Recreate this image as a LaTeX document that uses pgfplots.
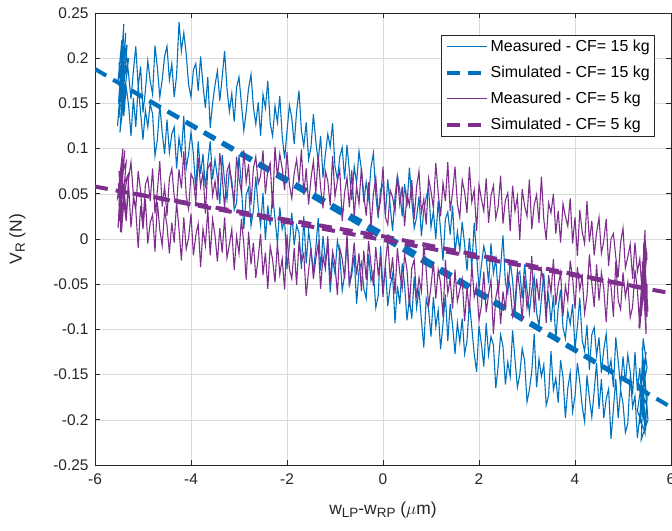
\documentclass[border=0pt]{standalone}
\usepackage{pgfplots}
\usepackage{pgfplotstable}
\pgfplotsset{compat=1.18}
\usepackage{fontspec}
\setmainfont{Liberation Sans}
\definecolor{mblue}{rgb}{0,0.447,0.741}
\definecolor{mpurple}{rgb}{0.494,0.184,0.556}
\definecolor{axgray}{rgb}{0.15,0.15,0.15}
\newcommand{\sbs}[1]{\raisebox{-0.35ex}{\fontsize{13.5}{14}\selectfont #1}}
\begin{document}
\pgfplotstableread{
x y
-5.50 0.156
-5.45 0.195
-5.40 0.168
-5.35 0.207
-5.30 0.182
-5.25 0.155
-5.20 0.186
-5.15 0.213
-5.10 0.168
-5.05 0.191
-5.00 0.140
-4.95 0.164
-4.90 0.197
-4.85 0.175
-4.80 0.160
-4.75 0.214
-4.70 0.189
-4.65 0.157
-4.60 0.176
-4.55 0.202
-4.50 0.213
-4.45 0.176
-4.40 0.194
-4.35 0.157
-4.30 0.181
-4.25 0.240
-4.20 0.208
-4.15 0.228
-4.10 0.205
-4.05 0.171
-4.00 0.157
-3.95 0.187
-3.90 0.194
-3.85 0.164
-3.80 0.202
-3.75 0.170
-3.70 0.145
-3.65 0.179
-3.60 0.123
-3.55 0.150
-3.50 0.170
-3.45 0.186
-3.40 0.153
-3.35 0.179
-3.30 0.208
-3.25 0.166
-3.20 0.141
-3.15 0.161
-3.10 0.130
-3.05 0.168
-3.00 0.179
-2.95 0.150
-2.90 0.120
-2.85 0.141
-2.80 0.167
-2.75 0.182
-2.70 0.146
-2.65 0.127
-2.60 0.151
-2.55 0.114
-2.50 0.160
-2.45 0.145
-2.40 0.175
-2.35 0.128
-2.30 0.114
-2.25 0.147
-2.20 0.129
-2.15 0.158
-2.10 0.114
-2.05 0.089
-2.00 0.119
-1.95 0.148
-1.90 0.134
-1.85 0.105
-1.80 0.141
-1.75 0.164
-1.70 0.120
-1.65 0.103
-1.60 0.129
-1.55 0.088
-1.50 0.102
-1.45 0.138
-1.40 0.108
-1.35 0.086
-1.30 0.114
-1.25 0.068
-1.20 0.094
-1.15 0.116
-1.10 0.102
-1.05 0.128
-1.00 0.080
-0.95 0.066
-0.90 0.091
-0.85 0.101
-0.80 0.066
-0.75 0.104
-0.70 0.075
-0.65 0.043
-0.60 0.080
-0.55 0.062
-0.50 0.097
-0.45 0.077
-0.40 0.041
-0.35 0.063
-0.30 0.045
-0.25 0.079
-0.20 0.095
-0.15 0.049
-0.10 0.023
-0.05 0.055
0.00 0.061
0.05 0.027
0.10 0.066
0.15 0.036
0.20 0.009
0.25 0.047
0.30 0.070
0.35 0.054
0.40 0.025
0.45 0.061
0.50 0.036
0.55 0.079
0.60 0.043
0.65 0.012
0.70 0.024
0.75 0.047
0.80 0.003
0.85 0.032
0.90 0.046
0.95 0.057
1.00 0.013
1.05 0.031
1.10 0.000
1.15 0.042
1.20 0.009
1.25 -0.024
1.30 0.022
1.35 0.030
1.40 0.005
1.45 0.037
1.50 -0.016
1.55 0.008
1.60 -0.013
1.65 0.019
1.70 -0.006
1.75 -0.035
1.80 0.001
1.85 -0.032
1.90 0.018
1.95 -0.017
2.00 -0.055
2.05 -0.029
2.10 -0.008
2.15 -0.020
2.20 -0.049
2.25 -0.005
2.30 -0.038
2.35 -0.022
2.40 -0.061
2.45 -0.031
2.50 0.004
2.55 -0.048
2.60 -0.060
2.65 -0.024
2.70 -0.046
2.75 -0.082
2.80 -0.040
2.85 -0.036
2.90 -0.066
2.95 -0.028
3.00 -0.056
3.05 -0.082
3.10 -0.056
3.15 -0.042
3.20 -0.082
3.25 -0.096
3.30 -0.066
3.35 -0.038
3.40 -0.078
3.45 -0.062
3.50 -0.092
3.55 -0.062
3.60 -0.112
3.65 -0.076
3.70 -0.056
3.75 -0.098
3.80 -0.110
3.85 -0.080
3.90 -0.094
3.95 -0.072
4.00 -0.122
4.05 -0.097
4.10 -0.065
4.15 -0.112
4.20 -0.124
4.25 -0.095
4.30 -0.145
4.35 -0.106
4.40 -0.098
4.45 -0.129
4.50 -0.109
4.55 -0.148
4.60 -0.122
4.65 -0.105
4.70 -0.147
4.75 -0.134
4.80 -0.164
4.85 -0.109
4.90 -0.135
4.95 -0.164
5.00 -0.130
5.05 -0.159
5.10 -0.128
5.15 -0.147
5.20 -0.172
5.25 -0.125
5.30 -0.168
5.35 -0.143
5.40 -0.184
5.45 -0.155
5.50 -0.142
5.42 -0.110
5.35 -0.205
5.48 -0.125
5.30 -0.190
5.46 -0.215
5.40 -0.120
5.52 -0.200
5.38 -0.222
5.44 -0.140
5.50 -0.185
5.33 -0.160
5.47 -0.212
5.50 -0.170
5.50 -0.178
5.45 -0.208
5.40 -0.162
5.35 -0.196
5.30 -0.220
5.25 -0.174
5.20 -0.186
5.15 -0.152
5.10 -0.204
5.05 -0.214
5.00 -0.182
4.95 -0.167
4.90 -0.198
4.85 -0.155
4.80 -0.188
4.75 -0.221
4.70 -0.166
4.65 -0.177
4.60 -0.198
4.55 -0.155
4.50 -0.188
4.45 -0.137
4.40 -0.168
4.35 -0.197
4.30 -0.176
4.25 -0.151
4.20 -0.202
4.15 -0.185
4.10 -0.158
4.05 -0.137
4.00 -0.174
3.95 -0.191
3.90 -0.148
3.85 -0.165
3.80 -0.198
3.75 -0.153
3.70 -0.134
3.65 -0.181
3.60 -0.154
3.55 -0.167
3.50 -0.124
3.45 -0.173
3.40 -0.184
3.35 -0.139
3.30 -0.152
3.25 -0.133
3.20 -0.164
3.15 -0.105
3.10 -0.146
3.05 -0.167
3.00 -0.180
2.95 -0.135
2.90 -0.121
2.85 -0.150
2.80 -0.164
2.75 -0.133
2.70 -0.101
2.65 -0.152
2.60 -0.136
2.55 -0.161
2.50 -0.119
2.45 -0.106
2.40 -0.140
2.35 -0.165
2.30 -0.117
2.25 -0.108
2.20 -0.128
2.15 -0.093
2.10 -0.141
2.05 -0.116
2.00 -0.096
1.95 -0.147
1.90 -0.127
1.85 -0.098
1.80 -0.070
1.75 -0.113
1.70 -0.127
1.65 -0.088
1.60 -0.114
1.55 -0.093
1.50 -0.127
1.45 -0.096
1.40 -0.072
1.35 -0.113
1.30 -0.061
1.25 -0.094
1.20 -0.122
1.15 -0.079
1.10 -0.097
1.05 -0.064
1.00 -0.108
0.95 -0.078
0.90 -0.066
0.85 -0.120
0.80 -0.090
0.75 -0.056
0.70 -0.076
0.65 -0.042
0.60 -0.088
0.55 -0.066
0.50 -0.090
0.45 -0.051
0.40 -0.027
0.35 -0.072
0.30 -0.052
0.25 -0.093
0.20 -0.039
0.15 -0.052
0.10 -0.074
0.05 -0.031
0.00 -0.057
-0.05 -0.008
-0.10 -0.063
-0.15 -0.076
-0.20 -0.037
-0.25 -0.046
-0.30 -0.017
-0.35 -0.066
-0.40 -0.055
-0.45 -0.026
-0.50 -0.035
-0.55 -0.072
-0.60 -0.018
-0.65 -0.039
-0.70 -0.051
-0.75 -0.002
-0.80 -0.040
-0.85 -0.057
-0.90 -0.017
-0.95 -0.002
-1.00 -0.038
-1.05 -0.023
-1.10 -0.059
-1.15 -0.008
-1.20 -0.024
-1.25 0.003
-1.30 -0.035
-1.35 0.023
-1.40 -0.010
-1.45 -0.037
-1.50 -0.011
-1.55 0.009
-1.60 -0.027
-1.65 0.025
-1.70 -0.033
-1.75 0.007
-1.80 0.015
-1.85 -0.007
-1.90 0.029
-1.95 -0.007
-2.00 -0.033
-2.05 0.021
-2.10 0.011
-2.15 0.035
-2.20 -0.005
-2.25 0.023
-2.30 0.049
-2.35 0.015
-2.40 0.037
-2.45 -0.001
-2.50 0.051
-2.55 0.015
-2.60 0.035
-2.65 0.069
-2.70 0.031
-2.75 0.015
-2.80 0.057
-2.85 0.049
-2.90 0.011
-2.95 0.059
-3.00 0.093
-3.05 0.040
-3.10 0.032
-3.15 0.065
-3.20 0.077
-3.25 0.044
-3.30 0.064
-3.35 0.093
-3.40 0.039
-3.45 0.068
-3.50 0.088
-3.55 0.066
-3.60 0.108
-3.65 0.084
-3.70 0.056
-3.75 0.094
-3.80 0.072
-3.85 0.108
-3.90 0.054
-3.95 0.094
-4.00 0.118
-4.05 0.094
-4.10 0.078
-4.15 0.136
-4.20 0.094
-4.25 0.112
-4.30 0.078
-4.35 0.124
-4.40 0.116
-4.45 0.096
-4.50 0.132
-4.55 0.094
-4.60 0.118
-4.65 0.148
-4.70 0.110
-4.75 0.092
-4.80 0.138
-4.85 0.150
-4.90 0.124
-4.95 0.142
-5.00 0.110
-5.05 0.140
-5.10 0.170
-5.15 0.124
-5.20 0.156
-5.25 0.114
-5.30 0.148
-5.35 0.168
-5.40 0.136
-5.45 0.178
-5.50 0.134
-5.42 0.205
-5.53 0.125
-5.36 0.228
-5.48 0.118
-5.30 0.200
-5.51 0.150
-5.40 0.238
-5.46 0.135
-5.33 0.215
-5.52 0.175
-5.44 0.220
-5.38 0.145
-5.50 0.195
-5.45 0.160
}\bluemeas
\pgfplotstableread{
x y
-5.50 0.075
-5.45 0.043
-5.40 0.060
-5.35 0.026
-5.30 0.067
-5.25 0.085
-5.20 0.048
-5.15 0.034
-5.10 0.075
-5.05 0.053
-5.00 0.016
-4.95 0.060
-4.90 0.068
-4.85 0.042
-4.80 0.078
-4.75 0.028
-4.70 0.054
-4.65 0.086
-4.60 0.036
-4.55 0.058
-4.50 0.026
-4.45 0.067
-4.40 0.078
-4.35 0.047
-4.30 0.038
-4.25 0.077
-4.20 0.056
-4.15 0.097
-4.10 0.048
-4.05 0.033
-4.00 0.072
-3.95 0.066
-3.90 0.040
-3.85 0.090
-3.80 0.058
-3.75 0.074
-3.70 0.028
-3.65 0.078
-3.60 0.084
-3.55 0.048
-3.50 0.064
-3.45 0.043
-3.40 0.095
-3.35 0.070
-3.30 0.034
-3.25 0.075
-3.20 0.083
-3.15 0.058
-3.10 0.042
-3.05 0.091
-3.00 0.067
-2.95 0.052
-2.90 0.098
-2.85 0.063
-2.80 0.083
-2.75 0.038
-2.70 0.078
-2.65 0.091
-2.60 0.061
-2.55 0.070
-2.50 0.098
-2.45 0.050
-2.40 0.076
-2.35 0.084
-2.30 0.034
-2.25 0.102
-2.20 0.068
-2.15 0.094
-2.10 0.078
-2.05 0.054
-2.00 0.096
-1.95 0.060
-1.90 0.045
-1.85 0.073
-1.80 0.088
-1.75 0.062
-1.70 0.099
-1.65 0.049
-1.60 0.078
-1.55 0.038
-1.50 0.067
-1.45 0.086
-1.40 0.051
-1.35 0.092
-1.30 0.057
-1.25 0.034
-1.20 0.075
-1.15 0.064
-1.10 0.037
-1.05 0.092
-1.00 0.047
-0.95 0.064
-0.90 0.077
-0.85 0.020
-0.80 0.051
-0.75 0.068
-0.70 0.035
-0.65 0.076
-0.60 0.025
-0.55 0.058
-0.50 0.039
-0.45 0.079
-0.40 0.048
-0.35 0.026
-0.30 0.063
-0.25 0.013
-0.20 0.050
-0.15 0.068
-0.10 0.029
-0.05 0.043
0.00 0.080
0.05 0.024
0.10 0.016
0.15 0.054
0.20 0.046
0.25 0.030
0.30 0.070
0.35 0.038
0.40 0.058
0.45 0.014
0.50 0.050
0.55 0.037
0.60 0.065
0.65 0.022
0.70 0.058
0.75 0.075
0.80 0.029
0.85 0.044
0.90 0.016
0.95 0.067
1.00 0.053
1.05 0.034
1.10 0.084
1.15 0.051
1.20 0.025
1.25 0.062
1.30 0.042
1.35 0.085
1.40 0.031
1.45 0.052
1.50 0.080
1.55 0.039
1.60 0.024
1.65 0.065
1.70 0.052
1.75 0.029
1.80 0.080
1.85 0.041
1.90 0.054
1.95 0.009
2.00 0.060
2.05 0.044
2.10 0.031
2.15 0.067
2.20 0.018
2.25 0.048
2.30 0.059
2.35 0.023
2.40 0.036
2.45 0.070
2.50 0.017
2.55 0.043
2.60 0.051
2.65 0.009
2.70 0.059
2.75 0.031
2.80 0.047
2.85 -0.001
2.90 0.055
2.95 0.037
3.00 0.025
3.05 0.066
3.10 0.011
3.15 0.038
3.20 0.049
3.25 0.018
3.30 0.069
3.35 0.022
3.40 -0.001
3.45 0.040
3.50 0.029
3.55 0.050
3.60 0.006
3.65 0.031
3.70 -0.004
3.75 0.039
3.80 0.025
3.85 0.014
3.90 0.045
3.95 -0.005
4.00 0.024
4.05 -0.019
4.10 0.032
4.15 0.008
4.20 -0.005
4.25 0.042
4.30 -0.003
4.35 0.020
4.40 -0.018
4.45 0.007
4.50 0.024
4.55 -0.016
4.60 -0.002
4.65 0.022
4.70 -0.030
4.75 0.000
4.80 0.006
4.85 -0.020
4.90 -0.042
4.95 -0.004
5.00 0.012
5.05 -0.032
5.10 -0.020
5.15 -0.006
5.20 -0.044
5.25 -0.004
5.30 -0.036
5.35 -0.022
5.40 -0.060
5.45 -0.030
5.50 -0.022
5.45 0.005
5.38 -0.085
5.50 -0.015
5.33 -0.098
5.46 0.010
5.48 -0.105
5.40 -0.025
5.52 -0.080
5.43 -0.005
5.47 -0.090
5.50 -0.050
5.50 -0.086
5.45 -0.046
5.40 -0.063
5.35 -0.099
5.30 -0.056
5.25 -0.034
5.20 -0.075
5.15 -0.087
5.10 -0.048
5.05 -0.064
5.00 -0.037
4.95 -0.078
4.90 -0.068
4.85 -0.025
4.80 -0.086
4.75 -0.052
4.70 -0.045
4.65 -0.092
4.60 -0.055
4.55 -0.037
4.50 -0.068
4.45 -0.028
4.40 -0.075
4.35 -0.049
4.30 -0.017
4.25 -0.063
4.20 -0.082
4.15 -0.042
4.10 -0.056
4.05 -0.031
4.00 -0.077
3.95 -0.043
3.90 -0.024
3.85 -0.068
3.80 -0.052
3.75 -0.085
3.70 -0.037
3.65 -0.051
3.60 -0.073
3.55 -0.022
3.50 -0.060
3.45 -0.040
3.40 -0.093
3.35 -0.049
3.30 -0.034
3.25 -0.068
3.20 -0.044
3.15 -0.081
3.10 -0.019
3.05 -0.060
3.00 -0.076
2.95 -0.041
2.90 -0.090
2.85 -0.056
2.80 -0.035
2.75 -0.070
2.70 -0.085
2.65 -0.054
2.60 -0.040
2.55 -0.079
2.50 -0.058
2.45 -0.094
2.40 -0.050
2.35 -0.065
2.30 -0.105
2.25 -0.045
2.20 -0.061
2.15 -0.081
2.10 -0.036
2.05 -0.074
2.00 -0.090
1.95 -0.051
1.90 -0.064
1.85 -0.028
1.80 -0.081
1.75 -0.054
1.70 -0.091
1.65 -0.044
1.60 -0.056
1.55 -0.069
1.50 -0.034
1.45 -0.077
1.40 -0.044
1.35 -0.060
1.30 -0.023
1.25 -0.086
1.20 -0.049
1.15 -0.034
1.10 -0.066
1.05 -0.025
1.00 -0.052
0.95 -0.075
0.90 -0.034
0.85 -0.005
0.80 -0.058
0.75 -0.043
0.70 -0.066
0.65 -0.023
0.60 -0.032
0.55 -0.075
0.50 -0.034
0.45 -0.017
0.40 -0.055
0.35 -0.038
0.30 -0.010
0.25 -0.061
0.20 -0.020
0.15 -0.044
0.10 -0.001
0.05 -0.027
0.00 -0.064
-0.05 -0.022
-0.10 -0.039
-0.15 -0.009
-0.20 -0.052
-0.25 -0.028
-0.30 -0.002
-0.35 -0.045
-0.40 -0.013
-0.45 -0.058
-0.50 -0.016
-0.55 -0.040
-0.60 -0.004
-0.65 -0.032
-0.70 -0.052
-0.75 0.006
-0.80 -0.044
-0.85 -0.022
-0.90 -0.010
-0.95 -0.062
-1.00 -0.028
-1.05 -0.014
-1.10 -0.048
-1.15 0.003
-1.20 -0.033
-1.25 -0.019
-1.30 -0.055
-1.35 -0.005
-1.40 -0.022
-1.45 -0.044
-1.50 -0.010
-1.55 -0.035
-1.60 -0.063
-1.65 -0.016
-1.70 -0.026
-1.75 -0.003
-1.80 -0.051
-1.85 -0.010
-1.90 -0.044
-1.95 -0.033
-2.00 0.005
-2.05 -0.056
-2.10 -0.022
-2.15 -0.039
-2.20 -0.004
-2.25 -0.048
-2.30 -0.023
-2.35 -0.008
-2.40 -0.055
-2.45 -0.015
-2.50 -0.040
-2.55 0.006
-2.60 -0.021
-2.65 -0.043
-2.70 -0.004
-2.75 -0.028
-2.80 0.008
-2.85 -0.045
-2.90 -0.005
-2.95 0.022
-3.00 -0.016
-3.05 0.003
-3.10 -0.034
-3.15 0.011
-3.20 -0.006
-3.25 -0.021
-3.30 0.024
-3.35 -0.015
-3.40 0.012
-3.45 -0.025
-3.50 0.004
-3.55 0.022
-3.60 -0.018
-3.65 0.033
-3.70 -0.007
-3.75 0.011
-3.80 -0.031
-3.85 0.017
-3.90 0.004
-3.95 -0.018
-4.00 0.028
-4.05 0.001
-4.10 -0.011
-4.15 0.024
-4.20 -0.024
-4.25 0.011
-4.30 0.041
-4.35 -0.004
-4.40 0.018
-4.45 -0.016
-4.50 0.015
-4.55 0.032
-4.60 -0.007
-4.65 0.010
-4.70 0.041
-4.75 -0.014
-4.80 0.027
-4.85 0.018
-4.90 -0.005
-4.95 0.044
-5.00 0.011
-5.05 0.037
-5.10 -0.010
-5.15 0.032
-5.20 0.045
-5.25 0.013
-5.30 0.060
-5.35 0.020
-5.40 0.041
-5.45 0.007
-5.50 0.038
-5.44 0.090
-5.52 0.012
-5.38 0.098
-5.49 0.020
-5.32 0.070
-5.53 0.045
-5.42 0.100
-5.47 0.008
-5.35 0.085
-5.51 0.060
-5.45 0.028
-5.50 0.075
}\purplemeas
\begin{tikzpicture}
\begin{axis}[
  at={(0,0)}, anchor=south west,
  width=576bp, height=452bp, scale only axis,
  xmin=-6, xmax=6, ymin=-0.25, ymax=0.25,
  xtick={-6,-4,-2,0,2,4,6},
  ytick={-0.25,-0.2,-0.15,-0.1,-0.05,0,0.05,0.1,0.15,0.2,0.25},
  scaled y ticks=false,
  yticklabel style={/pgf/number format/fixed, /pgf/number format/precision=2, xshift=-3bp},
  xticklabel style={yshift=-5bp},
  /pgf/number format/assume math mode=true,
  tick label style={font=\fontsize{15.5}{18}\selectfont, color=axgray},
  grid=major,
  major grid style={color=black!14, line width=0.6bp},
  axis line style={color=axgray, line width=0.8bp},
  tick style={color=axgray, line width=0.8bp},
  tick align=inside,
  major tick length=5bp,
  xlabel={w\sbs{LP}-w\sbs{RP} ($\mu$m)},
  ylabel={V\sbs{R} (N)},
  label style={font=\fontsize{17.5}{20}\selectfont, color=axgray},
  xlabel style={at={(axis description cs:0.5,-0.1)}, anchor=center},
  ylabel style={at={(axis description cs:-0.135,0.5)}, anchor=center},
  legend style={at={(0.972,0.951)}, anchor=north east, draw=axgray, fill=white,
    font=\fontsize{16}{19}\selectfont, inner sep=3bp, row sep=9bp},
  legend cell align=left,
  legend image code/.code={\draw[#1] (0bp,0bp) -- (40bp,0bp);},
]
\addplot[mblue, line width=1.1bp] table[x=x,y=y] {\bluemeas};
\addlegendentry{Measured - CF= 15 kg}
\addplot[mblue, line width=4bp, dash pattern=on 13bp off 8bp] coordinates {(-6,0.188) (6,-0.186)};
\addlegendentry{Simulated - CF= 15 kg}
\addplot[mblue, line width=4bp, dash pattern=on 13bp off 8bp, dash phase=7bp, forget plot] coordinates {(-5.5,0.172) (0,0.006) (5.5,-0.170)};
\addplot[mpurple, line width=1.1bp] table[x=x,y=y] {\purplemeas};
\addlegendentry{Measured - CF= 5 kg}
\addplot[mpurple, line width=4bp, dash pattern=on 13bp off 8bp] coordinates {(-6,0.058) (6,-0.060)};
\addlegendentry{Simulated - CF= 5 kg}
\addplot[mpurple, line width=4bp, dash pattern=on 13bp off 8bp, dash phase=7bp, forget plot] coordinates {(-5.5,0.053) (0,0.003) (5.5,-0.055)};
\end{axis}
\pgfresetboundingbox
\useasboundingbox (-95bp,-66bp) rectangle (577bp,465bp);
\end{tikzpicture}
\end{document}
